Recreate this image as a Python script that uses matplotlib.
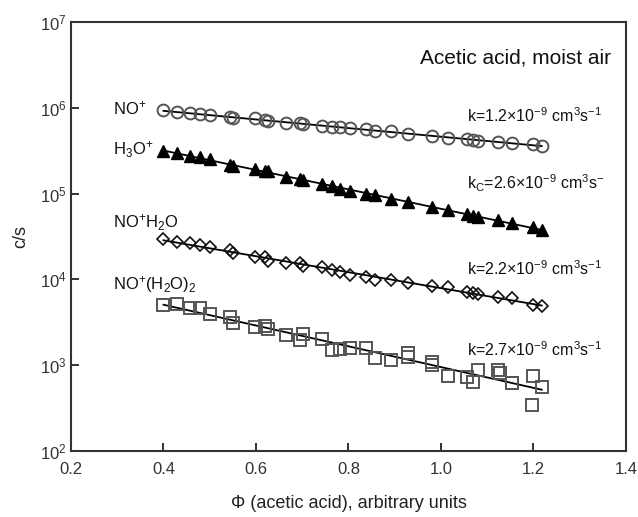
import numpy as np
import matplotlib
matplotlib.use("Agg")
import matplotlib.pyplot as plt

plt.rcParams['font.family'] = ['Liberation Sans', 'DejaVu Sans']
plt.rcParams['mathtext.fontset'] = 'custom'
plt.rcParams['mathtext.rm'] = 'Liberation Sans'
plt.rcParams['mathtext.it'] = 'Liberation Sans:italic'
plt.rcParams['mathtext.default'] = 'regular'

# shared abscissa values (arbitrary units)
phi = [0.400, 0.429, 0.457, 0.479, 0.500, 0.544, 0.551, 0.598, 0.619, 0.627,
       0.666, 0.695, 0.702, 0.742, 0.764, 0.782, 0.803, 0.839, 0.857, 0.893,
       0.929, 0.980, 1.016, 1.056, 1.070, 1.081, 1.124, 1.153, 1.200, 1.218]

no_plus = [9.4e5, 9.0e5, 8.6e5, 8.4e5, 8.2e5, 7.9e5, 7.55e5, 7.55e5, 7.2e5, 7.0e5,
           6.7e5, 6.6e5, 6.4e5, 6.1e5, 6.0e5, 5.9e5, 5.8e5, 5.6e5, 5.4e5, 5.3e5,
           5.0e5, 4.7e5, 4.5e5, 4.3e5, 4.2e5, 4.1e5, 4.0e5, 3.9e5, 3.75e5, 3.6e5]

h3o_plus = [3.16e5, 3.0e5, 2.74e5, 2.65e5, 2.51e5, 2.15e5, 2.12e5, 1.92e5, 1.85e5, 1.81e5,
            1.55e5, 1.47e5, 1.44e5, 1.29e5, 1.23e5, 1.12e5, 1.08e5, 9.9e4, 9.6e4, 8.6e4,
            8.05e4, 7.0e4, 6.45e4, 5.75e4, 5.55e4, 5.4e4, 4.9e4, 4.5e4, 4.05e4, 3.77e4]

no_h2o = [2.93e4, 2.75e4, 2.63e4, 2.52e4, 2.37e4, 2.2e4, 2.01e4, 1.84e4, 1.81e4, 1.65e4,
          1.57e4, 1.54e4, 1.43e4, 1.41e4, 1.29e4, 1.23e4, 1.12e4, 1.06e4, 9.85e3, 9.85e3,
          9.0e3, 8.4e3, 8.1e3, 7.2e3, 7.0e3, 6.8e3, 6.3e3, 6.0e3, 5.05e3, 4.9e3]

phi_sq = [0.400, 0.429, 0.457, 0.479, 0.500, 0.544, 0.551, 0.598, 0.619, 0.627,
          0.666, 0.695, 0.702, 0.742, 0.764, 0.782, 0.803, 0.839, 0.857, 0.893,
          0.929, 0.929, 0.980, 0.980, 1.016, 1.056, 1.070, 1.081, 1.124, 1.128,
          1.153, 1.153, 1.200, 1.218, 1.196]
no_h2o2 = [5.0e3, 5.15e3, 4.6e3, 4.7e3, 4.0e3, 3.67e3, 3.08e3, 2.81e3, 2.86e3, 2.62e3,
           2.25e3, 1.97e3, 2.31e3, 2.0e3, 1.5e3, 1.53e3, 1.57e3, 1.57e3, 1.2e3, 1.15e3,
           1.38e3, 1.26e3, 1.1e3, 1.0e3, 7.5e2, 7.2e2, 6.45e2, 8.8e2, 8.8e2, 8.2e2,
           6.25e2, 6.25e2, 7.5e2, 5.6e2, 3.45e2]

series_labels = ['NO$^{+}$', 'H$_{3}$O$^{+}$', 'NO$^{+}$H$_{2}$O', 'NO$^{+}$(H$_{2}$O)$_{2}$']
rate_labels = ['k=1.2\u00d710$^{-9}$ cm$^{3}$s$^{-1}$',
               'k$_{C}$=2.6\u00d710$^{-9}$ cm$^{3}$s$^{-}$',
               'k=2.2\u00d710$^{-9}$ cm$^{3}$s$^{-1}$',
               'k=2.7\u00d710$^{-9}$ cm$^{3}$s$^{-1}$']

fig = plt.figure(figsize=(6.38, 5.17), dpi=100)
ax = fig.add_axes([0.1113, 0.1277, 0.8697, 0.8297])

def fit_line(x, y):
    x = np.asarray(x); ly = np.log10(y)
    p = np.polyfit(x, ly, 1)
    xx = np.array([x.min(), x.max()])
    ax.plot(xx, 10 ** np.polyval(p, xx), color='black', lw=1.3, zorder=2)

gray = '#555555'
ax.plot(phi, no_plus, 'o', ms=8.5, mfc='none', mec=gray, mew=1.4, zorder=3)
fit_line(phi, no_plus)
ax.plot(phi, h3o_plus, '^', ms=8.5, mfc='black', mec='black', mew=1, zorder=3)
fit_line(phi, h3o_plus)
ax.plot(phi, no_h2o, 'D', ms=6.5, mfc='none', mec='#111111', mew=1.2, zorder=3)
fit_line(phi, no_h2o)
ax.plot(phi_sq, no_h2o2, 's', ms=9, mfc='none', mec=gray, mew=1.4, zorder=3)
fit_line(phi_sq, no_h2o2)

ax.set_yscale('log')
ax.set_xlim(0.2, 1.4)
ax.set_ylim(1e2, 1e7)
ax.set_xticks([0.2, 0.4, 0.6, 0.8, 1.0, 1.2, 1.4])
ax.set_xticklabels(['0.2', '0.4', '0.6', '0.8', '1.0', '1.2', '1.4'])
ax.yaxis.set_minor_locator(matplotlib.ticker.NullLocator())
ax.tick_params(axis='both', direction='in', length=6, width=1.3, colors='#222222',
               labelsize=12, labelcolor='#333333', top=False, right=False)
ax.tick_params(axis='x', pad=8)
ax.tick_params(axis='y', pad=3)
for s in ax.spines.values():
    s.set_linewidth(1.5)
    s.set_color('#333333')

ax.set_xlabel('\u03a6 (acetic acid), arbitrary units', fontsize=13, color='#222222', labelpad=13)
ax.set_ylabel('c/s', fontsize=13, color='#222222', labelpad=8)

ax.text(0.973, 0.904, 'Acetic acid, moist air', transform=ax.transAxes,
        ha='right', va='baseline', fontsize=15, color='#111111')

lab_y = [9.8e5, 3.25e5, 4.6e4, 8.8e3]
for lab, yv in zip(series_labels, lab_y):
    ax.text(0.29, yv, lab, ha='left', va='center', fontsize=12, color='#111111')

rate_y = [8.0e5, 1.33e5, 1.35e4, 1.5e3]
for lab, yv in zip(rate_labels, rate_y):
    ax.text(1.056, yv, lab, ha='left', va='center', fontsize=11.5, color='#111111')

fig.savefig('out.png', dpi=100)
